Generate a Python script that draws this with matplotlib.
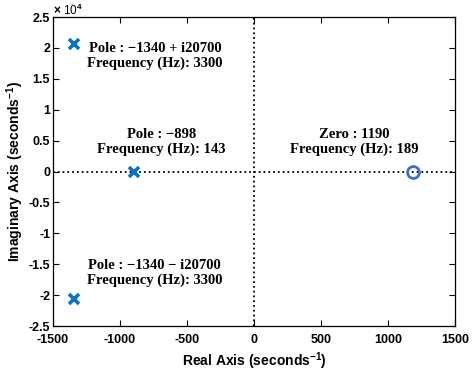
import matplotlib
matplotlib.use('Agg')
import matplotlib.pyplot as plt
from matplotlib.ticker import FuncFormatter, MultipleLocator

# sans labels for the axes, serif bold for the annotations
plt.rcParams['font.family'] = ['Liberation Sans', 'DejaVu Sans']
plt.rcParams['axes.unicode_minus'] = False
plt.rcParams['mathtext.fontset'] = 'custom'
plt.rcParams['mathtext.rm'] = 'Liberation Sans:bold'
plt.rcParams['mathtext.it'] = 'Liberation Sans:bold'
plt.rcParams['mathtext.bf'] = 'Liberation Sans:bold'

# pole / zero locations (s-plane)
pole_re = [-1340, -898, -1340]
pole_im = [20700, 0, -20700]
zero_re = [1190]
zero_im = [0]

# annotation text and anchor points
labels = [
    'Pole : \u22121340 + i20700\nFrequency (Hz): 3300',
    'Pole : \u2212898\nFrequency (Hz): 143',
    'Pole : \u22121340 \u2212 i20700\nFrequency (Hz): 3300',
    'Zero : 1190\nFrequency (Hz): 189',
]
label_x = [-740, -690, -740, 745]
label_y = [18700, 4750, -16400, 4750]

fig = plt.figure(figsize=(4.72, 3.74), dpi=100)
ax = fig.add_axes([0.1123, 0.1283, 0.8517, 0.8262])

ax.axvline(0, color='black', linestyle=':', linewidth=1.3, zorder=1)
ax.axhline(0, color='black', linestyle=':', linewidth=1.3, zorder=1)

ax.plot(pole_re, pole_im, linestyle='none', marker='x', markersize=7,
        markeredgewidth=2.6, color='#0b72c4', zorder=3)
ax.plot(zero_re, zero_im, linestyle='none', marker='o', markersize=8.5,
        markeredgewidth=2.0, markerfacecolor='none', markeredgecolor='#3a6ed0', zorder=3)

for txt, tx, ty in zip(labels, label_x, label_y):
    ax.text(tx, ty, txt, ha='center', va='center', fontsize=10.5,
            fontweight='bold', family=['Liberation Serif', 'DejaVu Serif'],
            linespacing=1.15)

ax.set_xlim(-1500, 1500)
ax.set_ylim(-25000, 25000)
ax.xaxis.set_major_locator(MultipleLocator(500))
ax.yaxis.set_major_locator(MultipleLocator(5000))
ax.yaxis.set_major_formatter(FuncFormatter(lambda v, p: '%g' % (v / 1e4)))

ax.tick_params(direction='in', top=True, right=True, length=4, width=0.8,
               labelsize=9)
ax.tick_params(axis='x', pad=6)
ax.tick_params(axis='y', pad=2)
for lab in ax.get_xticklabels() + ax.get_yticklabels():
    lab.set_fontweight('bold')
for sp in ax.spines.values():
    sp.set_linewidth(0.9)

ax.text(0.0, 1.006, r'$\times$ 10$^{4}$', transform=ax.transAxes,
        ha='left', va='baseline', fontsize=8.5)

ax.set_xlabel('Real Axis (seconds$^{-1}$)', fontsize=10, fontweight='bold', labelpad=3)
ax.set_ylabel('Imaginary Axis (seconds$^{-1}$)', fontsize=10, fontweight='bold', labelpad=2)

fig.savefig('out.png', dpi=100, facecolor='white')
